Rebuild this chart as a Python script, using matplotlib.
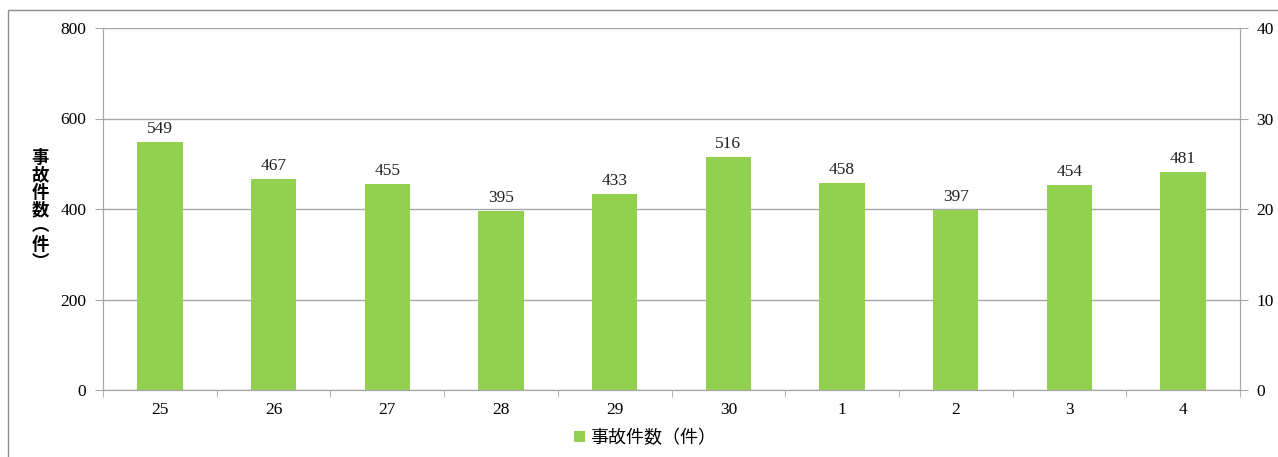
import numpy as np
import matplotlib.pyplot as plt
from matplotlib.patches import Rectangle

plt.rcParams['font.family'] = ['Liberation Serif', 'Noto Sans CJK JP', 'DejaVu Sans']

years = ['25', '26', '27', '28', '29', '30', '1', '2', '3', '4']
accidents = [549, 467, 455, 395, 433, 516, 458, 397, 454, 481]
left_ticks = [0, 200, 400, 600, 800]
right_ticks = [0, 10, 20, 30, 40]

bar_color = '#92D050'
grid_color = '#a6a6a6'

fig = plt.figure(figsize=(12.78, 4.57), dpi=100)
ax = fig.add_axes([103/1278, 1 - 390/457, (1240-103)/1278, (390-28)/457])

x = np.arange(len(years))
ax.bar(x, accidents, width=0.4, color=bar_color, zorder=3, label='事故件数（件）')
for xi, v in zip(x, accidents):
    ax.text(xi, v + 11, str(v), ha='center', va='bottom', fontsize=12.5, color='#222222')

ax.set_xlim(-0.5, len(years) - 0.5)
ax.set_ylim(0, 800)
ax.set_yticks(left_ticks)
ax.set_xticks(x)
ax.set_xticklabels(years)
ax.set_xticks(np.arange(-0.5, len(years)), minor=True)
ax.tick_params(axis='x', which='major', length=0, pad=9, labelsize=12.5)
ax.tick_params(axis='x', which='minor', length=5, direction='out', color=grid_color)
ax.tick_params(axis='y', length=6, color=grid_color, labelsize=12.5, pad=6)
ax.yaxis.grid(True, color=grid_color, linewidth=1, zorder=0)
for s in ax.spines.values():
    s.set_color(grid_color)
ax.spines['top'].set_visible(False)

ax2 = ax.twinx()
ax2.set_ylim(0, 40)
ax2.set_yticks(right_ticks)
ax2.tick_params(axis='y', length=6, color=grid_color, labelsize=12.5, pad=6)
for s in ax2.spines.values():
    s.set_color(grid_color)
ax2.spines['top'].set_visible(False)

# vertical axis label, one character per line
label_chars = ['事', '故', '件', '数', '︵', '件', '︶']
fig.text(40/1278, 1 - 210/457, '\n'.join(label_chars), ha='center', va='center',
         fontsize=12.5, fontweight='bold', family=['Noto Sans CJK JP'], linespacing=0.95)

handles, labels = ax.get_legend_handles_labels()
leg = fig.legend(handles, labels, loc='center', bbox_to_anchor=(645/1278, 1 - 438/457),
                 frameon=False, handlelength=0.6, handleheight=0.6, handletextpad=0.3,
                 prop={'family': ['Noto Sans CJK JP'], 'size': 13})

# outer chart border
fig.patches.append(Rectangle((8/1278, -0.01), 1.1, 1 - 10/457 + 0.01, transform=fig.transFigure,
                             fill=False, edgecolor='#8c8c8c', linewidth=1))

fig.savefig('out.png', dpi=100)
